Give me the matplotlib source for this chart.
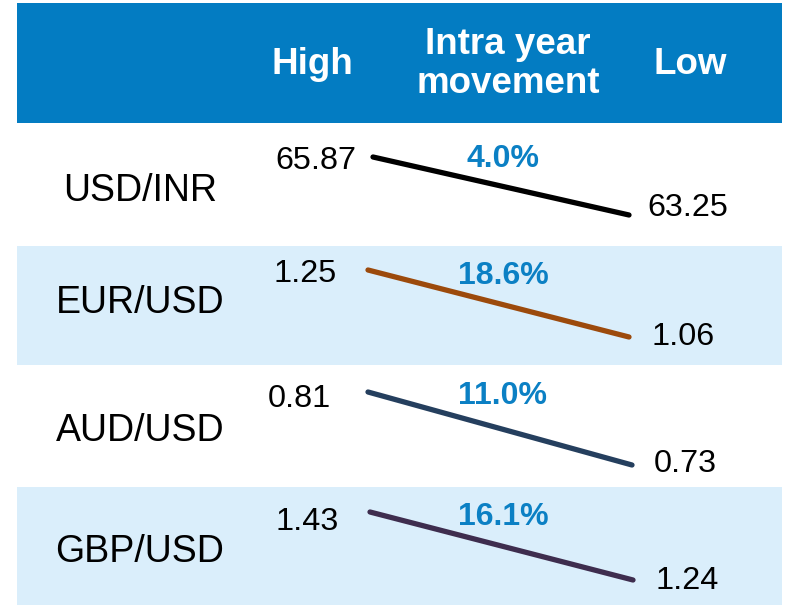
import matplotlib.pyplot as plt
from matplotlib.patches import Rectangle

plt.rcParams['font.family'] = ['Liberation Sans', 'DejaVu Sans']

# data
pairs = ["USD/INR", "EUR/USD", "AUD/USD", "GBP/USD"]
highs = ["65.87", "1.25", "0.81", "1.43"]
lows = ["63.25", "1.06", "0.73", "1.24"]
moves = ["4.0%", "18.6%", "11.0%", "16.1%"]
headers = ["High", "Intra year\nmovement", "Low"]

line_colors = ["#000000", "#9C4A0C", "#253F5E", "#3E2D4E"]
HEADER_BLUE = "#037CC2"
BAND_BLUE = "#DAEEFB"
PCT_BLUE = "#0B80C4"

# layout (pixels)
row_top = [123, 246, 365, 487]
row_bot = [246, 365, 487, 605]
line_start = [(373, 157), (368, 270), (368, 392), (370, 512)]
line_end = [(629, 215), (629, 337), (632, 465), (633, 580)]
high_pos = [(275, 161), (273, 274), (268, 399), (276, 522)]
low_pos = [(647, 208), (652, 337), (654, 464), (656, 581)]
move_y = [159, 276, 396, 517]
pair_y = [191, 303, 431, 552]

W, H = 792, 605
fig = plt.figure(figsize=(W / 100, H / 100), dpi=100)
ax = fig.add_axes([0, 0, 1, 1])
ax.set_xlim(0, W)
ax.set_ylim(H, 0)
ax.axis("off")

# header
ax.add_patch(Rectangle((17, 3), 765, 120, color=HEADER_BLUE, lw=0))
header_x = [312, 508, 690]
for x, txt in zip(header_x, headers):
    ax.text(x, 64, txt, color="white", fontsize=26.5, fontweight="bold",
            ha="center", va="center", linespacing=1.12)

for i, pair in enumerate(pairs):
    if i % 2 == 1:
        ax.add_patch(Rectangle((17, row_top[i]), 765, row_bot[i] - row_top[i],
                               color=BAND_BLUE, lw=0))
    (x0, y0), (x1, y1) = line_start[i], line_end[i]
    ax.plot([x0, x1], [y0, y1], color=line_colors[i], lw=3.8,
            solid_capstyle="round")
    ax.text(140, pair_y[i], pair, fontsize=27, ha="center", va="center")
    ax.text(*high_pos[i], highs[i], fontsize=23.3, ha="left", va="center")
    ax.text(*low_pos[i], lows[i], fontsize=23.3, ha="left", va="center")
    ax.text(503, move_y[i], moves[i], fontsize=23, fontweight="bold",
            color=PCT_BLUE, ha="center", va="center")

fig.savefig("out.png", dpi=100)
